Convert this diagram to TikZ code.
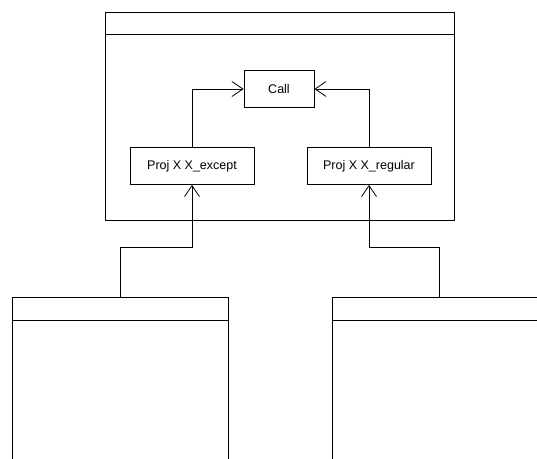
\documentclass[tikz,border=0pt]{standalone}
\usepackage{fontspec}
\setmainfont{Liberation Sans}
\usetikzlibrary{arrows.meta}
\begin{document}
\begin{tikzpicture}[x=1pt,y=-1pt,
  box/.style={draw,line width=0.8pt,minimum height=37pt,inner sep=0pt,font=\fontsize{12.5}{14}\selectfont},
  frame/.style={draw,line width=0.8pt,inner sep=0pt},
  hdr/.style={line width=0.8pt},
  conn/.style={line width=0.8pt,-{Straight Barb[length=11pt,width=15pt,line width=0.8pt]}}]
\useasboundingbox (0,0) rectangle (537,458);
\clip (0,0) rectangle (537,458);
% top frame
\node[frame,minimum width=349pt,minimum height=208pt] (top) at (279.5,116) {};
\draw[hdr] ([yshift=-23pt]top.north west) -- ([yshift=-23pt]top.north east);
% inner nodes
\node[box,minimum width=70pt] (call) at (279,89) {Call};
\node[box,minimum width=124pt] (exc) at (192,166) {Proj X X\_except};
\node[box,minimum width=124pt] (reg) at (369,166) {Proj X X\_regular};
\draw[conn] (exc.north) |- (call.west);
\draw[conn] (reg.north) |- (call.east);
% bottom frames
\node[frame,minimum width=216pt,minimum height=300pt] (lb) at (120,447) {};
\draw[hdr] ([yshift=-24pt]lb.north west) -- ([yshift=-24pt]lb.north east);
\node[frame,minimum width=214pt,minimum height=300pt] (rb) at (439,447) {};
\draw[hdr] ([yshift=-24pt]rb.north west) -- ([yshift=-24pt]rb.north east);
\draw[conn] (lb.north) -- ++(0,-49) -| (exc.south);
\draw[conn] (rb.north) -- ++(0,-49) -| (reg.south);
\end{tikzpicture}
\end{document}
